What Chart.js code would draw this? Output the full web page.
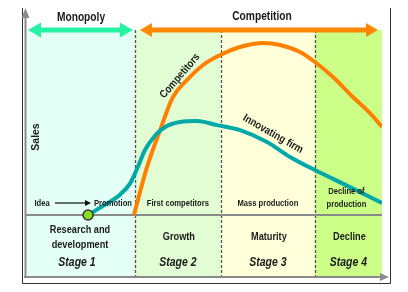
<!DOCTYPE html>
<html>
<head>
<meta charset="utf-8">
<script src="https://cdn.jsdelivr.net/npm/chart.js@4"></script>
<style>
html,body{margin:0;padding:0;background:#fff;}
#wrap{width:408px;height:292px;position:relative;}
</style>
</head>
<body>
<div id="wrap"><canvas id="c" width="408" height="292"></canvas></div>
<script>
// ---- data (time units 0..100, sales units 0..100) ----
const stageBounds = [0, 30.4, 54.6, 81.1, 100];
const stageColors = ['#e4fff6', '#e2fdd4', '#ffffda', '#ccff88'];
const stageEvents = [['Idea', 'Promotion'], ['First competitors'], ['Mass production'], ['Decline of', 'production']];
const stageNames = [['Research and', 'development'], ['Growth'], ['Maturity'], ['Decline']];
const stageLabels = ['Stage 1', 'Stage 2', 'Stage 3', 'Stage 4'];
const periodLabels = ['Monopoly', 'Competition'];

const innovatingTime  = [17.2, 22.0, 26.2, 29.0, 31.0, 33.2, 36.1, 38.9, 43.1, 47.9, 53.5, 60.0, 67.6, 74.1, 81.1, 91.0, 100];
const innovatingSales = [0, 5.6, 11.0, 17.0, 25.0, 35.0, 43.0, 47.6, 50.3, 50.8, 48.6, 45.9, 39.5, 31.4, 24.3, 15.1, 6.5];
const competitorTime  = [30.1, 33.8, 37.5, 41.1, 45.1, 49.6, 54.4, 60.0, 66.5, 71.3, 76.9, 81.1, 86.2, 91.8, 96.6, 100];
const competitorSales = [0, 25.9, 45.9, 63.8, 73.0, 81.1, 86.5, 90.8, 93.0, 91.9, 88.1, 82.7, 74.6, 63.8, 55.1, 47.6];
const ideaPoint = [17.2, 0];

const FONT = '"Liberation Sans", Arial, sans-serif';

function arrowLine(ctx, x1, x2, y, color, lw, hl, hw, left, right) {
  ctx.save();
  ctx.strokeStyle = color; ctx.fillStyle = color; ctx.lineWidth = lw;
  ctx.beginPath();
  ctx.moveTo(left ? x1 + hl - 1 : x1, y);
  ctx.lineTo(right ? x2 - hl + 1 : x2, y);
  ctx.stroke();
  if (left) { ctx.beginPath(); ctx.moveTo(x1, y); ctx.lineTo(x1 + hl, y - hw); ctx.lineTo(x1 + hl, y + hw); ctx.closePath(); ctx.fill(); }
  if (right) { ctx.beginPath(); ctx.moveTo(x2, y); ctx.lineTo(x2 - hl, y - hw); ctx.lineTo(x2 - hl, y + hw); ctx.closePath(); ctx.fill(); }
  ctx.restore();
}

function text(ctx, s, x, y, font, sx, rot) {
  ctx.save();
  ctx.font = font; ctx.fillStyle = '#1a1a1a';
  ctx.textAlign = 'center'; ctx.textBaseline = 'middle';
  ctx.translate(x, y);
  if (rot) ctx.rotate(rot);
  ctx.scale(sx, 1);
  ctx.fillText(s, 0, 0);
  ctx.restore();
}

const decor = {
  id: 'decor',
  beforeDatasetsDraw(chart) {
    const ctx = chart.ctx, xs = chart.scales.x, ys = chart.scales.y, a = chart.chartArea;
    ctx.save();
    for (let i = 0; i < 4; i++) {
      const l = xs.getPixelForValue(stageBounds[i]), r = xs.getPixelForValue(stageBounds[i + 1]);
      ctx.fillStyle = stageColors[i];
      ctx.fillRect(l, a.top, r - l, a.bottom - a.top);
    }
    // dashed separators
    ctx.strokeStyle = '#555'; ctx.lineWidth = 1.3; ctx.setLineDash([3, 2]);
    for (let i = 1; i < 4; i++) {
      const x = Math.round(xs.getPixelForValue(stageBounds[i])) + 0.5;
      ctx.beginPath(); ctx.moveTo(x, a.top); ctx.lineTo(x, a.bottom); ctx.stroke();
    }
    ctx.setLineDash([]);
    // baseline
    const y0 = ys.getPixelForValue(0);
    ctx.strokeStyle = '#8a8a8a'; ctx.lineWidth = 2.2;
    ctx.beginPath(); ctx.moveTo(a.left - 1, y0); ctx.lineTo(a.right, y0); ctx.stroke();
    // frame
    ctx.strokeStyle = '#333'; ctx.lineWidth = 1;
    ctx.beginPath();
    ctx.moveTo(22.5, 8); ctx.lineTo(22.5, 283.5); ctx.lineTo(390.5, 283.5); ctx.lineTo(390.5, 8);
    ctx.stroke();
    // axes arrows (gray)
    ctx.strokeStyle = '#8a8a8a'; ctx.fillStyle = '#8a8a8a'; ctx.lineWidth = 2;
    ctx.beginPath(); ctx.moveTo(25.5, a.bottom); ctx.lineTo(25.5, 15); ctx.stroke();
    ctx.beginPath(); ctx.moveTo(25.5, 8); ctx.lineTo(21.5, 18); ctx.lineTo(29.5, 18); ctx.closePath(); ctx.fill();
    ctx.beginPath(); ctx.moveTo(24, a.bottom); ctx.lineTo(381, a.bottom); ctx.stroke();
    ctx.beginPath(); ctx.moveTo(389, a.bottom); ctx.lineTo(380, a.bottom - 4); ctx.lineTo(380, a.bottom + 4); ctx.closePath(); ctx.fill();
    ctx.restore();
  },
  afterDatasetsDraw(chart) {
    const ctx = chart.ctx, xs = chart.scales.x, ys = chart.scales.y, a = chart.chartArea;
    const cx = i => (xs.getPixelForValue(stageBounds[i]) + xs.getPixelForValue(stageBounds[i + 1])) / 2;
    // period arrows
    const b1 = xs.getPixelForValue(stageBounds[1]);
    arrowLine(ctx, a.left + 1, b1 - 2, a.top, '#25f2a2', 5, 13, 7.5, true, true);
    arrowLine(ctx, b1 + 5, a.right - 4, a.top, '#ff8800', 5, 12, 7, true, true);
    text(ctx, periodLabels[0], 81, 18, 'bold 12px ' + FONT, 0.85);
    text(ctx, periodLabels[1], 262, 17, 'bold 12px ' + FONT, 0.85);
    // y label
    text(ctx, 'Sales', 36, 137, 'bold 11px ' + FONT, 0.95, -Math.PI / 2);
    // curve labels
    text(ctx, 'Competitors', 180, 76, 'bold 11px ' + FONT, 0.85, -0.86);
    text(ctx, 'Innovating firm', 273, 134, 'bold 11px ' + FONT, 0.85, 0.52);
    // event labels
    const fe = 'bold 9.5px ' + FONT, se = 0.8;
    text(ctx, stageEvents[0][0], 42, 203, fe, se);
    ctx.save(); ctx.strokeStyle = '#111'; ctx.fillStyle = '#111'; ctx.lineWidth = 1.2;
    ctx.beginPath(); ctx.moveTo(55, 203); ctx.lineTo(86, 203); ctx.stroke();
    ctx.beginPath(); ctx.moveTo(91, 203); ctx.lineTo(85, 200); ctx.lineTo(85, 206); ctx.closePath(); ctx.fill();
    ctx.restore();
    text(ctx, stageEvents[0][1], 113, 203, fe, se);
    text(ctx, stageEvents[1][0], cx(1), 203, fe, se);
    text(ctx, stageEvents[2][0], cx(2), 203, fe, se);
    text(ctx, stageEvents[3][0], cx(3) - 2, 191, fe, se);
    text(ctx, stageEvents[3][1], cx(3) - 2, 204, fe, se);
    // stage names
    const fn = 'bold 11.5px ' + FONT, sn = 0.8;
    text(ctx, stageNames[0][0], 80, 230, fn, sn);
    text(ctx, stageNames[0][1], 80, 245, fn, sn);
    for (let i = 1; i < 4; i++) text(ctx, stageNames[i][0], cx(i) + 1, 237, fn, sn);
    const fs = 'italic bold 12.5px ' + FONT, ss = 0.84;
    text(ctx, stageLabels[0], 77, 263, fs, ss);
    for (let i = 1; i < 4; i++) text(ctx, stageLabels[i], cx(i), 263, fs, ss);
  }
};

new Chart(document.getElementById('c'), {
  type: 'line',
  data: {
    datasets: [
      {
        label: 'Idea',
        data: [{x: ideaPoint[0], y: ideaPoint[1]}],
        showLine: false, pointRadius: 5, pointBackgroundColor: '#88dd22', pointBorderColor: '#333', pointBorderWidth: 1.5,
        order: 0
      },
      {
        label: 'Innovating firm',
        data: innovatingTime.map((t, i) => ({x: t, y: innovatingSales[i]})),
        borderColor: '#00a8a8', borderWidth: 4, pointRadius: 0, cubicInterpolationMode: 'monotone', fill: false,
        order: 1
      },
      {
        label: 'Competitors',
        data: competitorTime.map((t, i) => ({x: t, y: competitorSales[i]})),
        borderColor: '#ff8000', borderWidth: 4, pointRadius: 0, cubicInterpolationMode: 'monotone', fill: false,
        order: 2
      }
    ]
  },
  options: {
    responsive: false, animation: false,
    layout: {padding: {left: 27, right: 26, top: 30, bottom: 15}},
    plugins: {legend: {display: false}, tooltip: {enabled: false}},
    scales: {
      x: {type: 'linear', min: 0, max: 100, display: false},
      y: {type: 'linear', min: -33.5, max: 100, display: false}
    }
  },
  plugins: [decor]
});
</script>
</body>
</html>
